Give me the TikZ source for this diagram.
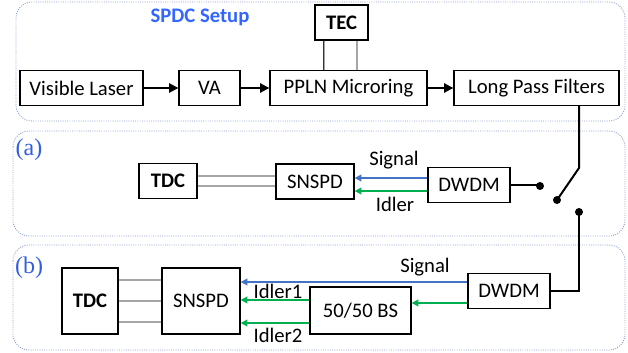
\documentclass[tikz,border=0pt]{standalone}
\usepackage{fontspec}
\setmainfont{Carlito}
\newfontfamily\panelfont{Liberation Serif}
\usetikzlibrary{arrows.meta}
\definecolor{sigblue}{RGB}{68,114,196}
\definecolor{idlgreen}{RGB}{0,176,80}
\definecolor{titleblue}{RGB}{51,102,255}
\definecolor{panelblue}{RGB}{50,95,225}
\definecolor{framegray}{RGB}{140,160,205}
\tikzset{
  txt/.style={font=\fontsize{15.5}{18}\selectfont},
  box/.style={txt, draw, line width=1pt, minimum height=26.25pt, inner sep=0pt},
  frame/.style={draw=framegray, densely dotted, line width=0.7pt, rounded corners=12pt},
  beam/.style={line width=1.3pt, -{Triangle[length=7pt,width=7pt]}},
  sig/.style={draw=sigblue, line width=1.2pt, -{Triangle[length=5pt,width=5pt]}},
  idl/.style={draw=idlgreen, line width=1.2pt, -{Triangle[length=5pt,width=5pt]}},
  cable/.style={draw=gray!40!black, double=gray!70, double distance=0.8pt, line width=0.6pt},
  fiber/.style={line width=1.5pt},
  contact/.style={circle, fill, inner sep=0pt, minimum size=6pt},
  panel/.style={text=panelblue, font=\panelfont\fontsize{18}{20}\selectfont}
}
\begin{document}
\begin{tikzpicture}[x=0.75pt, y=-0.75pt]
\useasboundingbox (0,0) rectangle (628,353);
% Frames
\draw[frame] (16,2) rectangle (625,121);
\draw[frame] (13,131) rectangle (625,236);
\draw[frame] (13,245) rectangle (625,350);
\node[txt, text=titleblue, font=\fontsize{15.5}{18}\selectfont\bfseries] (spdc) at (200,17) {SPDC Setup};
\node[panel] (pa) at (29,150) {(a)};
\node[panel] (pb) at (29,268) {(b)};

% SPDC source
\node[box, minimum width=92.25pt] (laser) at (81.5,88) {Visible Laser};
\node[box, minimum width=45.75pt] (va) at (209.5,88) {VA};
\node[box, minimum width=117.75pt] (ppln) at (348.5,88) {PPLN Microring};
\node[box, minimum width=123.75pt] (lpf) at (536.5,88) {Long Pass Filters};
\node[box, minimum width=39.75pt, font=\fontsize{15.5}{18}\selectfont\bfseries] (tec) at (341.5,22.5) {TEC};
\draw[beam] (laser) -- (va);
\draw[beam] (va) -- (ppln);
\draw[beam] (ppln) -- (lpf);
\draw[cable] ([xshift=-13.1pt]tec.south) -- ([xshift=-13.1pt]tec.south |- ppln.north);
\draw[cable] ([xshift=11.6pt]tec.south) -- ([xshift=11.6pt]tec.south |- ppln.north);

% Switch
\coordinate (knee) at (579,168);
\node[contact] (pivot) at (557,200) {};
\node[contact] (ta) at (540,186) {};
\node[contact] (tb) at (579,212) {};
\draw[fiber] (lpf.south -| knee) -- (knee) -- (pivot.center);

% (a)
\node[box, minimum width=43.5pt, font=\fontsize{15.5}{18}\selectfont\bfseries] (tdcA) at (168,181) {TDC};
\node[box, minimum width=58.5pt] (snspdA) at (315,181.5) {SNSPD};
\node[box, minimum width=61.5pt] (dwdmA) at (469,185) {DWDM};
\draw[cable] ([yshift=3.75pt]tdcA.east) -- ([yshift=3.75pt]tdcA.east -| snspdA.west);
\draw[cable] ([yshift=-3.75pt]tdcA.east) -- ([yshift=-3.75pt]tdcA.east -| snspdA.west);
\draw[sig] ([yshift=5.25pt]dwdmA.west) coordinate (sa) -- (sa -| snspdA.east);
\draw[idl] ([yshift=-4.5pt]dwdmA.west) coordinate (ia) -- (ia -| snspdA.east);
\node[txt] (sigA) at (394,160) {Signal};
\node[txt] (idlA) at (395,204) {Idler};
\draw[fiber] (dwdmA.east) -- (dwdmA.east -| ta) -- (ta.center);

% (b)
\node[box, minimum width=42pt, minimum height=49.5pt, font=\fontsize{15.5}{18}\selectfont\bfseries] (tdcB) at (90,301) {TDC};
\node[box, minimum width=58.5pt, minimum height=49.5pt] (snspdB) at (201,301) {SNSPD};
\node[box, minimum width=75.75pt, minimum height=35.25pt] (bs) at (360.5,310.5) {50/50 BS};
\node[box, minimum width=61.5pt] (dwdmB) at (509,291) {DWDM};
\foreach \dy in {15.75,0,-15.75}
  \draw[cable] ([yshift=\dy pt]tdcB.east) -- ([yshift=\dy pt]tdcB.east -| snspdB.west);
\draw[sig] ([yshift=6.75pt]dwdmB.west) coordinate (sb) -- (sb -| snspdB.east);
\draw[idl] ([yshift=-9pt]dwdmB.west) coordinate (ib) -- (ib -| bs.east);
\draw[idl] ([yshift=7.9pt]bs.west) coordinate (i1) -- (i1 -| snspdB.east);
\draw[idl] ([yshift=-9.4pt]bs.west) coordinate (i2) -- (i2 -| snspdB.east);
\node[txt] (sigB) at (425,267) {Signal};
\node[txt] (idl1) at (278,291) {Idler1};
\node[txt] (idl2) at (278,335) {Idler2};
\draw[fiber] (dwdmB.east) -- (dwdmB.east -| tb) -- (tb.center);
\end{tikzpicture}
\end{document}
